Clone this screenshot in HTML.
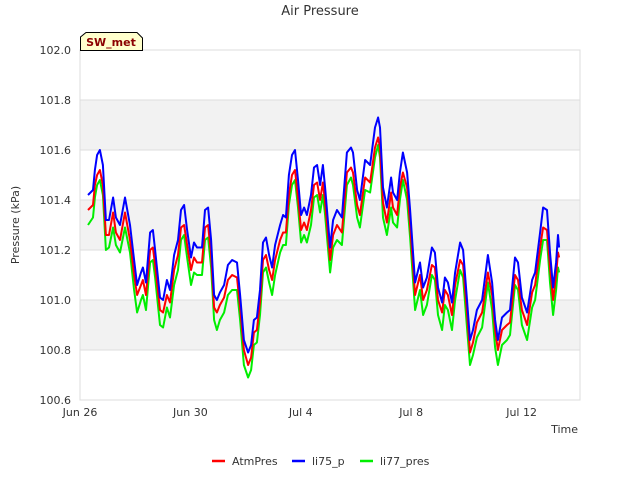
<!DOCTYPE html>
<html><head><meta charset="utf-8"><style>
body{margin:0;background:#fff;font-family:"Liberation Sans","DejaVu Sans",sans-serif}
</style></head><body>
<svg id="c" width="640" height="480" xmlns="http://www.w3.org/2000/svg" font-family="DejaVu Sans, Liberation Sans, sans-serif"></svg>
<script>
const times=[0.29,0.47,0.54,0.62,0.72,0.83,0.94,1.05,1.20,1.30,1.45,1.63,1.81,1.96,2.07,2.21,2.28,2.39,2.54,2.64,2.72,2.90,3.01,3.15,3.26,3.41,3.55,3.66,3.77,3.88,4.02,4.13,4.24,4.42,4.53,4.64,4.75,4.86,4.96,5.07,5.22,5.36,5.51,5.69,5.80,5.94,6.09,6.20,6.30,6.41,6.52,6.63,6.74,6.85,6.96,7.07,7.25,7.36,7.46,7.57,7.68,7.79,7.90,8.01,8.12,8.22,8.37,8.48,8.59,8.70,8.80,8.88,9.06,9.17,9.31,9.49,9.67,9.82,9.89,10.04,10.14,10.33,10.51,10.69,10.80,10.87,10.98,11.12,11.27,11.34,11.49,11.59,11.70,11.85,11.96,12.14,12.32,12.43,12.57,12.75,12.86,12.97,13.12,13.22,13.33,13.48,13.59,13.77,13.88,14.02,14.13,14.24,14.38,14.57,14.78,14.93,15.04,15.14,15.29,15.47,15.58,15.76,15.87,16.01,16.20,16.38,16.49,16.67,16.78,16.92,17.03,17.14,17.25,17.32,17.36];
const li75=[101.42,101.44,101.52,101.58,101.60,101.54,101.32,101.32,101.41,101.33,101.30,101.41,101.30,101.16,101.06,101.11,101.13,101.07,101.27,101.28,101.20,101.01,101.00,101.08,101.04,101.18,101.24,101.36,101.38,101.28,101.17,101.23,101.21,101.21,101.36,101.37,101.24,101.02,101.00,101.03,101.06,101.14,101.16,101.15,101.02,100.84,100.79,100.82,100.92,100.93,101.04,101.23,101.25,101.18,101.13,101.22,101.30,101.34,101.33,101.50,101.58,101.60,101.48,101.34,101.37,101.34,101.42,101.53,101.54,101.46,101.54,101.45,101.21,101.32,101.36,101.33,101.59,101.61,101.59,101.44,101.40,101.56,101.54,101.69,101.73,101.69,101.45,101.37,101.49,101.43,101.40,101.51,101.59,101.51,101.36,101.07,101.15,101.05,101.09,101.21,101.19,101.05,100.99,101.09,101.07,100.99,101.11,101.23,101.20,101.00,100.84,100.88,100.96,101.00,101.18,101.07,100.92,100.84,100.93,100.95,100.96,101.17,101.15,101.01,100.95,101.08,101.11,101.27,101.37,101.36,101.19,101.05,101.15,101.26,101.21];
const atm=[101.36,101.38,101.46,101.50,101.52,101.46,101.26,101.26,101.35,101.27,101.24,101.35,101.24,101.10,101.02,101.06,101.08,101.02,101.20,101.21,101.14,100.96,100.95,101.02,100.99,101.12,101.18,101.29,101.30,101.22,101.12,101.17,101.15,101.15,101.29,101.30,101.18,100.97,100.95,100.98,101.01,101.08,101.10,101.09,100.97,100.80,100.74,100.77,100.87,100.88,100.99,101.16,101.18,101.12,101.08,101.16,101.24,101.27,101.27,101.42,101.50,101.52,101.41,101.28,101.31,101.28,101.36,101.46,101.47,101.40,101.47,101.39,101.16,101.26,101.30,101.27,101.51,101.53,101.51,101.38,101.34,101.49,101.47,101.61,101.65,101.61,101.39,101.31,101.43,101.37,101.34,101.45,101.51,101.45,101.30,101.02,101.10,101.00,101.04,101.14,101.13,101.00,100.95,101.04,101.02,100.94,101.06,101.16,101.14,100.95,100.79,100.83,100.91,100.95,101.11,101.02,100.88,100.80,100.88,100.90,100.91,101.10,101.08,100.96,100.90,101.03,101.06,101.21,101.29,101.28,101.13,101.00,101.10,101.19,101.17];
const li77=[101.30,101.33,101.41,101.46,101.48,101.42,101.20,101.21,101.29,101.22,101.19,101.29,101.19,101.04,100.95,101.00,101.02,100.96,101.15,101.16,101.09,100.90,100.89,100.97,100.93,101.06,101.12,101.24,101.26,101.17,101.06,101.11,101.10,101.10,101.24,101.25,101.13,100.92,100.88,100.92,100.95,101.02,101.04,101.04,100.92,100.74,100.69,100.72,100.82,100.83,100.94,101.11,101.13,101.07,101.02,101.10,101.19,101.22,101.22,101.38,101.46,101.48,101.37,101.23,101.26,101.23,101.30,101.41,101.42,101.35,101.42,101.34,101.11,101.21,101.24,101.22,101.46,101.49,101.46,101.33,101.29,101.44,101.43,101.57,101.62,101.57,101.33,101.26,101.37,101.31,101.29,101.40,101.48,101.40,101.25,100.96,101.04,100.94,100.98,101.10,101.08,100.94,100.88,100.98,100.96,100.88,101.00,101.12,101.09,100.89,100.74,100.78,100.85,100.89,101.07,100.96,100.81,100.74,100.82,100.84,100.86,101.06,101.04,100.90,100.84,100.97,101.00,101.16,101.24,101.24,101.07,100.94,101.04,101.13,101.11];
const yTicks=[100.6,100.8,101.0,101.2,101.4,101.6,101.8,102.0];
const xTickDays=[0,4,8,12,16];
const xTickLabels=["Jun 26","Jun 30","Jul 4","Jul 8","Jul 12"];

const svg=document.getElementById('c');
const NS='http://www.w3.org/2000/svg';
const L=80,R=580,T=50,B=400;
const xs=d=>L+d*27.6;
const ys=v=>B-(v-100.6)/1.4*(B-T);
function mk(tag,attrs,parent){const e=document.createElementNS(NS,tag);for(const k in attrs)e.setAttribute(k,attrs[k]);(parent||svg).appendChild(e);return e;}

let e=mk('rect',{x:L,y:T,width:R-L,height:B-T,fill:'#fff'});


for(let i=0;i<yTicks.length-1;i++){
  if(i%2===1){
    e=mk('rect',{x:L,y:ys(yTicks[i+1]),width:R-L,height:ys(yTicks[i])-ys(yTicks[i+1]),fill:'#f2f2f2'});
    
    
  }
}
yTicks.forEach(v=>{
  e=mk('line',{x1:L,x2:R,y1:ys(v),y2:ys(v),stroke:'#dddddd','stroke-width':1});
  
  
  e=mk('text',{x:L-9,y:ys(v)+4,'text-anchor':'end','font-size':11,fill:'#333'});
  e.textContent=v.toFixed(1);
  
  
});
e=mk('rect',{x:L,y:T,width:R-L,height:B-T,fill:'none',stroke:'#dddddd'});


xTickDays.forEach((d,i)=>{
  e=mk('text',{x:xs(d),y:B+16,'text-anchor':'middle','font-size':11,fill:'#333'});
  e.textContent=xTickLabels[i];
  
  
});
function series(vals,color,name){
  const p=vals.map((v,i)=>(i?'L':'M')+xs(times[i]).toFixed(1)+','+ys(v).toFixed(1)).join('');
  const el=mk('path',{d:p,fill:'none',stroke:color,'stroke-width':2,'stroke-linejoin':'round'});
  
  
}
series(li77,'#00ee00','li77-pres-line');
series(atm,'#ff0000','atmpres-line');
series(li75,'#0000ff','li75-p-line');

e=mk('text',{x:320,y:15,'text-anchor':'middle','font-size':13,fill:'#333'});
e.textContent='Air Pressure';


e=mk('text',{x:19,y:225,'text-anchor':'middle','font-size':11,fill:'#333',transform:'rotate(-90 19 225)'});
e.textContent='Pressure (kPa)';


e=mk('text',{x:578,y:433,'text-anchor':'end','font-size':11,fill:'#333'});
e.textContent='Time';



e=mk('path',{d:'M80.5,50.5 L80.5,37 L86,32.5 L137,32.5 L142.5,38 L142.5,50.5 Z',fill:'#ffffcc',stroke:'#000'});


e=mk('text',{x:111,y:46,'text-anchor':'middle','font-size':11,'font-weight':'bold',fill:'#8b0000'});
e.textContent='SW_met';



const leg=[['AtmPres','#ff0000',212],['li75_p','#0000ff',292],['li77_pres','#00ee00',360]];
leg.forEach(([t,c,x])=>{
  e=mk('line',{x1:x,x2:x+13,y1:461,y2:461,stroke:c,'stroke-width':2.5});
  
  
  e=mk('text',{x:x+20,y:465,'font-size':11,fill:'#333'});
  e.textContent=t;
  
  
});
</script>
</body></html>
